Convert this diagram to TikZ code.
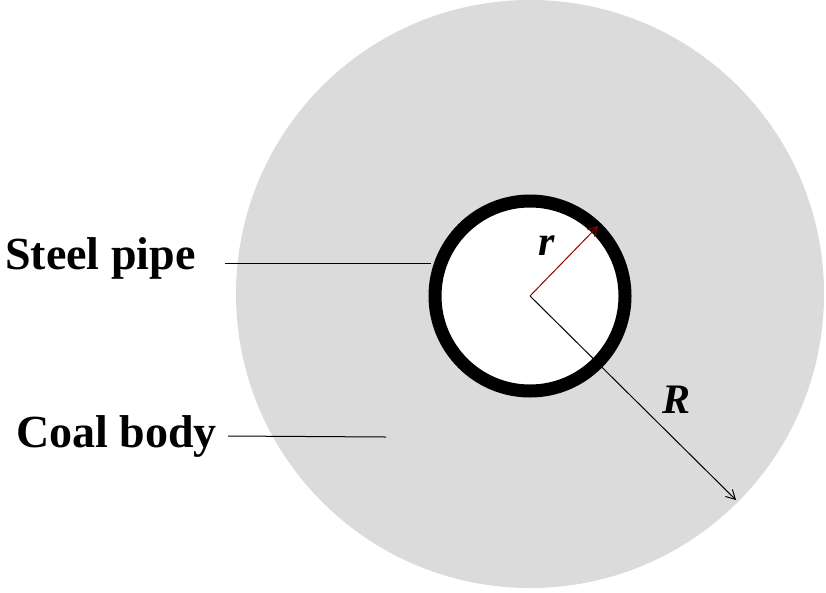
\documentclass[tikz,border=0pt]{standalone}
\usepackage{fontspec}
\setmainfont{Liberation Serif}
\usetikzlibrary{arrows.meta}
\tikzset{lbl/.style={font=\fontsize{46}{46}\selectfont\bfseries, inner sep=0pt},
  ilbl/.style={font=\fontsize{42}{42}\selectfont\bfseries\itshape, inner sep=0pt},
  lead/.style={line width=1pt, black},
  arr/.style={line width=1pt, -{Straight Barb[length=9pt,width=10pt]}}}
\begin{document}
\begin{tikzpicture}[x=1pt,y=-1pt]
\useasboundingbox[fill=white] (0,0) rectangle (826,592);
\fill[black!14] (530,294) circle (294);
\fill[white] (530,296) circle (95);
\draw[line width=13pt] (530,296) circle (95);
\coordinate (c) at (530,296);
\coordinate (rt) at (598,226);
\coordinate (Rt) at (736,500);
\draw[arr, draw=red!60!black] (c) -- (rt);
\draw[arr] (c) -- (Rt);
\node[ilbl] (r) at (547,246) {r};
\node[ilbl] (R) at (676,400) {R};
\node[lbl, anchor=west] (sp) at (5,258) {Steel pipe};
\node[lbl, anchor=west] (cb) at (16,436) {Coal body};
\coordinate (sp1) at (225,263);
\coordinate (sp2) at (431,263);
\coordinate (cb1) at (228,436);
\coordinate (cb2) at (386,437);
\draw[lead] (sp1) -- (sp2);
\draw[lead] (cb1) -- (cb2);
\end{tikzpicture}
\end{document}
